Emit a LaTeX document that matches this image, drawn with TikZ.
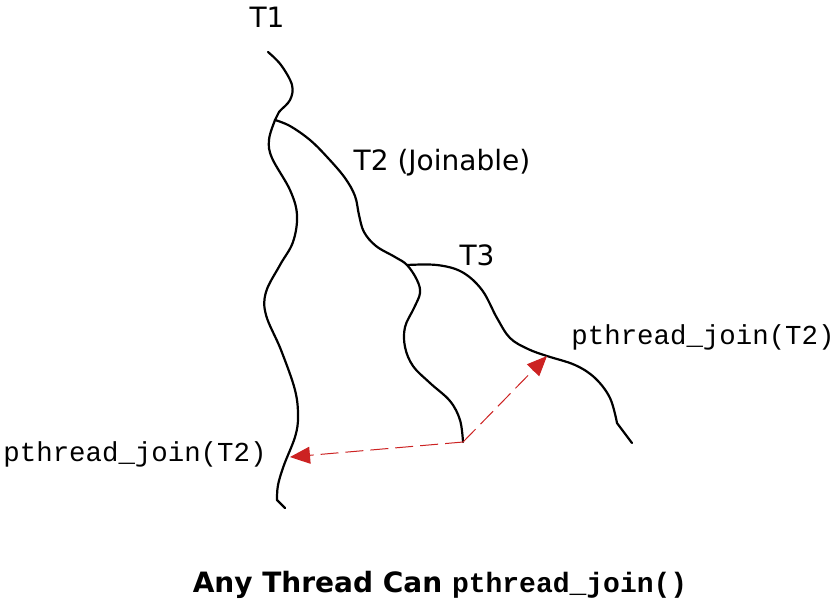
\documentclass[tikz,border=0pt]{standalone}
\usepackage{fontspec}
\setmainfont{DejaVu Sans}
\setmonofont{Liberation Mono}
\usepackage{tikz}
\usetikzlibrary{arrows.meta}

\definecolor{joinred}{RGB}{204,34,34}

\tikzset{
  thread/.style={line width=1.1pt, line cap=round, line join=round},
  joinarrow/.style={joinred, line width=0.5pt, dash pattern=on 9pt off 3.5pt,
    -{Triangle[length=10pt, width=8.5pt]}},
  lbl/.style={font=\fontsize{14}{16}\selectfont, inner sep=0pt},
  code/.style={font=\fontsize{13.7}{16}\selectfont\ttfamily, inner sep=0pt}
}

\begin{document}
\begin{tikzpicture}[x=0.5pt, y=-0.5pt]
  \useasboundingbox (0,0) rectangle (839,607);

  % threads
  \coordinate (fork1) at (275,120);
  \coordinate (fork2) at (407,265);
  \coordinate (t1hit) at (290,457);
  \coordinate (t2end) at (463,442);
  \coordinate (t3hit) at (547,356);

  \draw[thread] plot[smooth, tension=0.6] coordinates {(268,52) (281,65) (292,85)
    (290,100) (279,112) (275,120) (269,140) (272,158) (290,190) (297,215)
    (293,242) (280,265) (266,292) (266,315) (281,350) (295,390) (298,417)
    (295,437) (284,465) (278,485) (277,500)} -- (285,508);
  \draw[thread] plot[smooth, tension=0.6] coordinates {(fork1) (290,126) (310,140)
    (328,158) (345,178) (355,196) (359,215) (364,232) (376,246) (395,257)
    (fork2) (417,280) (420,293) (414,308) (405,327) (405,347) (413,366)
    (430,383) (450,401) (460,420) (t2end)};
  \draw[thread] plot[smooth, tension=0.6] coordinates {(fork2) (437,265) (462,272)
    (482,290) (497,318) (510,338) (528,349) (t3hit) (575,365) (595,378)
    (610,398) (617,423)} -- (632,443);

  % joins
  \draw[joinarrow] (t2end) -- (t1hit);
  \draw[joinarrow] (t2end) -- (t3hit);

  % labels
  \node (t1) [lbl] at (267,17) {T1};
  \node (t2) [lbl] at (442,163) {T2 (Joinable)};
  \node (t3) [lbl] at (477,255) {T3};
  \node (joinright) [code] at (703,337) {pthread\_join(T2)};
  \node (joinleft) [code] at (135,454) {pthread\_join(T2)};
  \node (title) [lbl] at (440,585) {\bfseries Any Thread Can \texttt{\bfseries pthread\_join()}};
\end{tikzpicture}
\end{document}
